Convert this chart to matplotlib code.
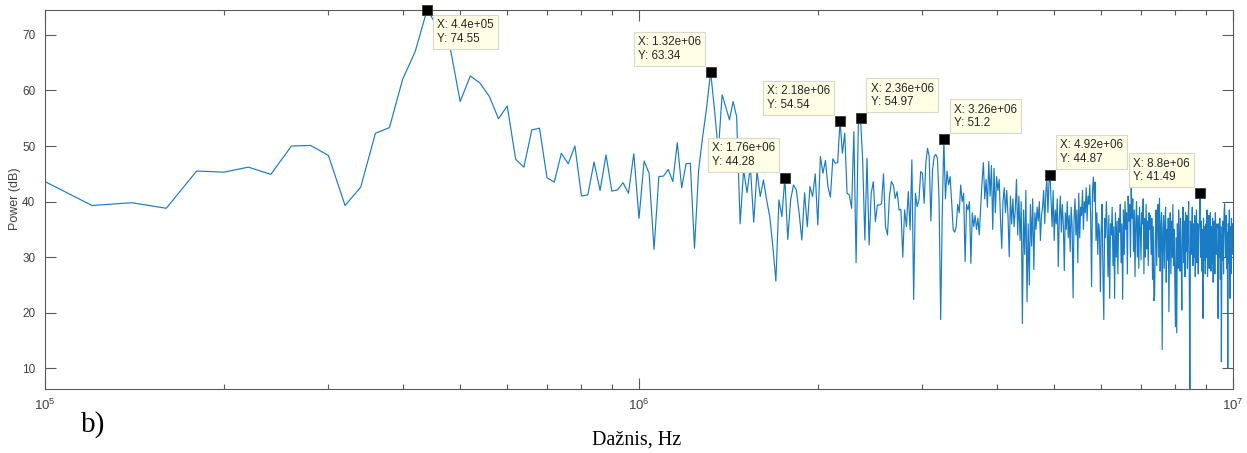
import numpy as np
import matplotlib
matplotlib.use("Agg")
import matplotlib.pyplot as plt
from matplotlib.ticker import NullFormatter

plt.rcParams['font.family'] = ['Liberation Sans', 'DejaVu Sans']
plt.rcParams['mathtext.default'] = 'regular'

# FFT grid: 100 kHz .. 10 MHz, 20 kHz step
f_start = 1e5
f_step = 2e4

# power (dB)
power_a = [43.6, 39.3, 39.8, 38.8, 45.5, 45.3, 46.2, 44.9, 50.0, 50.1,
           48.3, 39.3, 42.6, 52.3, 53.3, 62.0, 67.0, 74.55]            # 0.10 .. 0.44 MHz
power_b = [71.0, 68.2, 58.0, 62.6, 61.3, 58.9, 54.9, 57.2, 47.6, 46.2,
           52.9, 53.2, 44.3, 43.5, 48.7, 46.8, 50.0, 41.0, 41.2, 47.1,
           42.0, 48.4, 41.9, 42.1, 43.4, 41.5, 48.6, 37.0]              # 0.46 .. 1.00 MHz
power_c = [47.3, 45.1, 31.4, 44.5, 44.6, 45.8, 43.6, 50.6, 42.5, 46.8,
           46.9, 31.6, 45.7, 51.7, 57.0, 63.34, 56.5, 49.0, 59.2, 57.0,
           54.7, 58.0, 55.3, 36.0, 45.7, 41.6, 46.3, 36.3, 45.4, 40.9,
           43.9, 40.3, 37.3, 31.9, 25.7, 40.3, 37.3, 44.28, 33.2, 40.3,
           43.0, 42.1, 38.0]                                            # 1.02 .. 1.86 MHz
power_d = [33.1, 41.6, 35.5, 42.7, 40.9, 45.0, 35.8, 48.1, 45.1, 47.4,
           42.7, 40.8, 47.7, 46.9, 47.0, 54.54, 48.7, 52.3, 41.5, 41.2,
           38.8, 52.6, 29.0, 53.8, 54.97, 47.5, 33.1, 47.8, 32.2, 41.5,
           43.6, 36.4, 39.4, 39.4, 39.6, 45.0, 35.5, 34.0, 40.9, 43.6,
           43.0, 40.6, 41.8, 38.5, 38.6, 30.0, 38.5, 35.5, 41.8, 34.9,
           47.5, 22.4, 41.5, 39.1, 40.3, 45.4, 45.1, 39.7, 46.9, 49.6,
           48.1, 36.5, 45.7, 48.1, 48.5, 47.8, 40.3, 18.8, 38.0, 51.2]  # 1.88 .. 3.26 MHz
power_e = [40.5, 45.5, 43.0, 44.5, 40.0, 35.0, 34.5, 35.5, 39.5, 38.0,
           43.0, 40.0, 41.5, 29.2, 39.5, 38.5, 40.0, 28.9, 38.0, 35.5,
           37.5, 35.0, 37.0, 34.0, 39.0, 43.5, 47.0, 40.5, 44.0, 39.0,
           47.2, 41.0, 46.5, 35.0, 46.0, 38.0,
           44.5, 42.0, 44.0, 37.0, 31.6, 40.0, 42.5, 38.0, 42.0, 37.5,
           30.1, 41.0, 36.0, 40.5, 35.5, 38.5, 44.0, 34.0, 41.0, 33.0,
           40.0, 18.1, 38.5, 30.5, 42.0, 22.0, 36.0, 25.0, 39.5, 32.0,
           40.5, 27.8, 38.0, 35.0, 39.0, 36.5, 40.0, 33.0, 37.5, 39.0,
           42.0, 36.0, 41.5, 44.0, 38.0, 43.5, 44.87]                   # 3.28 .. 4.92 MHz
power_f = [40.0, 35.5, 42.0,
           33.0, 38.5, 36.0, 40.5, 28.3, 37.0, 41.0, 34.5, 39.5, 36.0,
           27.6, 38.0, 35.0, 40.0, 33.5, 37.5, 31.0, 39.0, 35.5, 22.7,
           37.0, 40.5, 34.0, 38.5, 29.0, 41.5, 33.5, 39.0, 37.5, 42.0,
           35.0, 40.0, 38.0, 42.5, 36.5, 41.0, 39.5, 43.0, 37.0, 24.7,
           42.0, 44.4, 40.0, 43.5, 33.0, 38.0, 30.5, 36.0, 34.5, 23.8,
           35.0, 39.5, 27.0, 18.8, 37.0, 33.5, 40.0, 35.0, 26.5, 37.5,
           22.6, 36.0, 34.0, 39.0, 28.5, 35.5, 22.6, 38.0, 30.0, 36.5,
           27.0, 37.0, 34.5, 39.5, 29.0, 36.0, 22.4, 38.5, 30.5, 40.0,
           35.0, 38.0, 27.0, 41.0, 36.5, 39.5, 30.0, 42.4, 37.0, 40.5,
           31.0, 38.5, 26.5, 36.5, 40.0, 30.0, 37.5, 28.0, 39.0, 35.5,
           29.5, 38.0, 36.0, 40.5, 27.0, 37.0, 30.0, 39.5, 31.5, 36.5,
           28.5, 38.0, 35.0, 37.5, 30.5, 37.0, 26.0, 35.5, 22.2, 23.0,
           34.0, 38.5, 28.5, 36.5, 39.5, 30.0, 40.6, 27.5, 35.5, 38.0,
           13.4, 34.5, 37.5, 28.0, 36.0, 39.0, 25.5, 35.0, 29.5, 37.0,
           20.2, 34.0, 38.0, 27.0, 36.5, 30.0, 39.5, 28.5, 35.0, 26.0,
           17.5, 33.5, 16.4, 36.0, 28.0, 38.5, 34.0, 27.5, 37.0, 30.5,
           20.5, 35.0, 39.0, 29.0, 36.5, 26.5, 38.0, 31.0, 37.5, 28.0,
           35.5, 40.0, 27.5, 6.3, 36.5, 30.5, 34.0, 39.0, 28.5, 36.0,
           30.0, 37.5, 26.5, 35.0, 38.5, 29.0, 36.0, 27.0, 34.5, 37.0,
           41.49, 30.0, 36.5, 27.5, 35.0, 19.0, 37.0, 29.5, 35.5, 27.0,
           36.0, 30.0, 38.5, 26.5, 35.0, 37.5, 28.0, 34.5, 38.0, 27.5,
           35.5, 29.0, 37.0, 25.5, 34.0, 36.5, 27.0, 38.0, 30.5, 35.0,
           36.0, 28.5, 19.0, 36.0, 30.0, 37.0, 26.0, 35.5, 11.2, 34.0,
           29.5, 36.5, 27.0, 38.0, 39.6, 35.0, 30.0, 37.5, 28.0, 34.5,
           10.0, 36.0, 29.0, 38.5, 22.6, 35.5, 27.0, 37.0, 30.5, 36.0,
           34.0]                                                        # 4.94 .. 10.0 MHz

power = np.array(power_a + power_b + power_c + power_d + power_e + power_f)
freq = f_start + f_step * np.arange(len(power))

# data tips shown on the plot
tip_freq = [4.4e5, 1.32e6, 1.76e6, 2.18e6, 2.36e6, 3.26e6, 4.92e6, 8.8e6]
tip_side = ['lr', 'ul', 'ul', 'ul', 'ur', 'ur', 'ur', 'ul']

line_col = '#1a7cc4'
axis_col = '#5a5a5a'
text_col = '#404040'

fig = plt.figure(figsize=(12.47, 4.53), dpi=100)
ax = fig.add_axes([45/1247, 1 - 389/453, (1233-45)/1247, (389-9.5)/453])

ax.plot(freq, power, color=line_col, lw=0.85)
ax.set_xscale('log')
ax.set_xlim(1e5, 1e7)
ax.set_ylim(power.min(), power.max())

ax.set_xticks([1e5, 1e6, 1e7])
ax.set_xticklabels([r'$10^{5}$', r'$10^{6}$', r'$10^{7}$'])
ax.xaxis.set_minor_formatter(NullFormatter())
ax.set_yticks([10, 20, 30, 40, 50, 60, 70])

ax.tick_params(which='both', direction='in', top=True, right=True,
               color=axis_col, labelcolor=text_col, labelsize=8.5, width=0.8)
ax.tick_params(which='major', length=8, pad=7)
ax.tick_params(which='minor', length=3.8)
ax.tick_params(axis='x', which='major', labelsize=9.5, pad=6)
for s in ax.spines.values():
    s.set_color(axis_col)
    s.set_linewidth(0.8)

# data tips
off = 7.2
for fx, side in zip(tip_freq, tip_side):
    i = int(np.argmin(np.abs(freq - fx)))
    x, y = freq[i], power[i]
    ax.plot([x], [y], marker='s', ms=6.5, mfc='black', mec='#3a3a2a',
            mew=0.6, clip_on=False, zorder=5)
    if side == 'lr':
        dx, dy, ha, va = off, -off, 'left', 'top'
    elif side == 'ur':
        dx, dy, ha, va = off, off, 'left', 'bottom'
    else:
        dx, dy, ha, va = -off, off, 'right', 'bottom'
    ax.annotate('X: %.3g\nY: %.4g' % (x, y), (x, y), xytext=(dx, dy),
                textcoords='offset points', ha=ha, va=va, fontsize=8.4,
                multialignment='left', color='#262626', zorder=6,
                annotation_clip=False,
                bbox=dict(boxstyle='square,pad=0.35', fc='#FFFFE6',
                          ec='#d8d8cc', lw=0.8))

fig.text(15/1247, 1 - 199/453, 'Power (dB)', rotation=90, ha='center',
         va='center', fontsize=9, color=text_col)
fig.text(637/1247, 1 - 445/453, 'Dažnis, Hz', ha='center', va='baseline',
         fontsize=14.5, family=['Liberation Serif', 'DejaVu Serif'])
fig.text(81/1247, 1 - 432/453, 'b)', ha='left', va='baseline',
         fontsize=21, family=['Liberation Serif', 'DejaVu Serif'])

fig.savefig('out.png', dpi=100)
